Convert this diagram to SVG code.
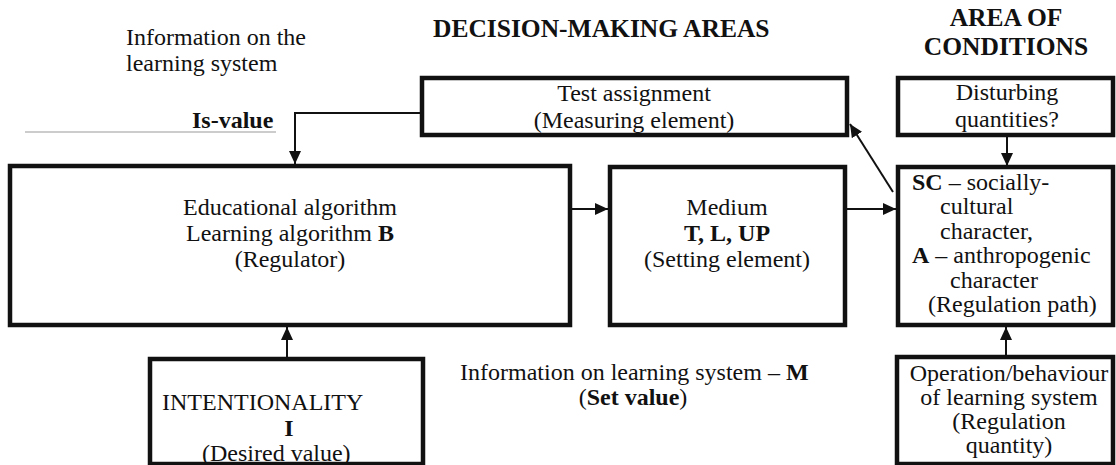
<svg xmlns="http://www.w3.org/2000/svg" width="1116" height="465" viewBox="0 0 1116 465">
<defs>
<marker id="ah" markerUnits="userSpaceOnUse" markerWidth="13" markerHeight="12" refX="13" refY="6" orient="auto">
<path d="M0,0 L13,6 L0,12 z" fill="#111"/>
</marker>
<style>
.box{fill:#fff;stroke:#111;stroke-width:4.5}
.t{font-family:"Liberation Serif","Times New Roman",serif;font-size:24px;fill:#111}
.c{text-anchor:middle}
.b{font-weight:bold}
.h{font-family:"Liberation Serif","Times New Roman",serif;font-size:25.5px;font-weight:bold;fill:#111}
.ln{fill:none;stroke:#111;stroke-width:2}
</style>
</defs>
<rect width="1116" height="465" fill="#fff"/>

<g id="headers">
<text class="t" x="126" y="45">Information on the</text>
<text class="t" x="126" y="71">learning system</text>
<text class="h" x="433" y="37">DECISION-MAKING AREAS</text>
<text class="h c" x="1006" y="26">AREA OF</text>
<text class="h c" x="1006" y="55">CONDITIONS</text>
<text class="t b" x="192" y="128">Is-value</text>
<line x1="25" y1="132" x2="276" y2="132" stroke="#999" stroke-width="1"/>
</g>

<g id="connectors">
<polyline class="ln" points="422,113 295,113 295,164" marker-end="url(#ah)"/>
<line class="ln" x1="570" y1="209" x2="608" y2="209" marker-end="url(#ah)"/>
<line class="ln" x1="845" y1="209" x2="896" y2="209" marker-end="url(#ah)"/>
<line class="ln" x1="893" y1="192" x2="850" y2="124" marker-end="url(#ah)"/>
<line class="ln" x1="1007" y1="135" x2="1007" y2="166" marker-end="url(#ah)"/>
<line class="ln" x1="287" y1="359" x2="287" y2="327" marker-end="url(#ah)"/>
<line class="ln" x1="1006" y1="357" x2="1006" y2="327" marker-end="url(#ah)"/>
</g>

<g id="test">
<rect class="box" x="422" y="78" width="425" height="57"/>
<text class="t c" x="634" y="101">Test assignment</text>
<text class="t c" x="634" y="128">(Measuring element)</text>
</g>

<g id="disturbing">
<rect class="box" x="898" y="78" width="215" height="57"/>
<text class="t c" x="1007" y="100">Disturbing</text>
<text class="t c" x="1007" y="127">quantities?</text>
</g>

<g id="regulator">
<rect class="box" x="10" y="166" width="560" height="159"/>
<text class="t c" x="290" y="215">Educational algorithm</text>
<text class="t c" x="290" y="241">Learning algorithm <tspan class="b">B</tspan></text>
<text class="t c" x="290" y="267">(Regulator)</text>
</g>

<g id="medium">
<rect class="box" x="610" y="167" width="235" height="158"/>
<text class="t c" x="727" y="215">Medium</text>
<text class="t c b" x="727" y="241">T, L, UP</text>
<text class="t c" x="727" y="267">(Setting element)</text>
</g>

<g id="path">
<rect class="box" x="898" y="167" width="215" height="158"/>
<text class="t" x="912" y="190"><tspan class="b">SC</tspan> – socially-</text>
<text class="t" x="940" y="214">cultural</text>
<text class="t" x="940" y="239">character,</text>
<text class="t" x="912" y="263"><tspan class="b">A</tspan> – anthropogenic</text>
<text class="t" x="950" y="288">character</text>
<text class="t" x="928" y="312">(Regulation path)</text>
</g>

<g id="intentionality">
<rect class="box" x="150" y="359" width="273" height="105"/>
<text class="t" x="162" y="410">INTENTIONALITY</text>
<text class="t c b" x="289" y="436">I</text>
<text class="t" x="202" y="461">(Desired value)</text>
</g>

<g id="setvalue">
<text class="t" x="460" y="380">Information on learning system – <tspan class="b">M</tspan></text>
<text class="t c" x="633" y="405">(<tspan class="b">Set value</tspan>)</text>
</g>

<g id="operation">
<rect class="box" x="897" y="357" width="216" height="107"/>
<text class="t c" x="1009" y="381">Operation/behaviour</text>
<text class="t c" x="1009" y="405">of learning system</text>
<text class="t c" x="1009" y="429">(Regulation</text>
<text class="t c" x="1009" y="453">quantity)</text>
</g>
</svg>
